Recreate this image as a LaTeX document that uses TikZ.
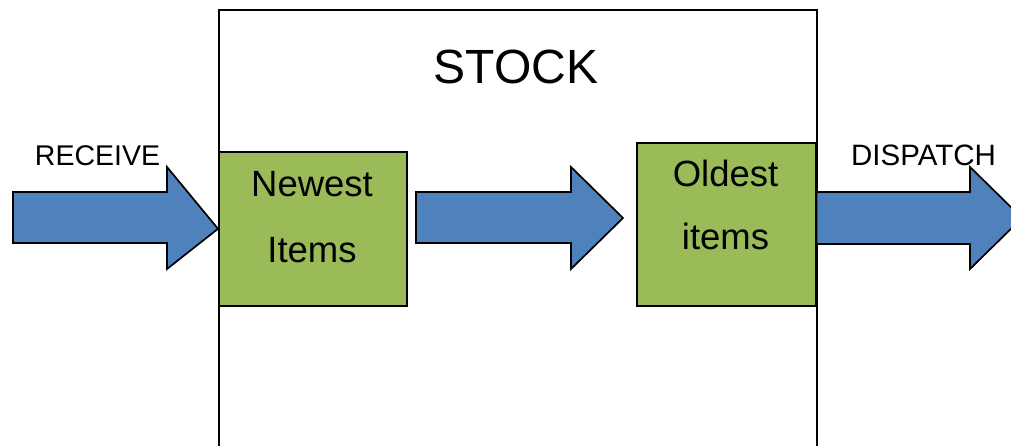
\documentclass[tikz,border=0pt]{standalone}
\usepackage{fontspec}
\setmainfont{Liberation Sans}
\definecolor{arrowblue}{HTML}{4F81BD}
\definecolor{boxgreen}{HTML}{9BBB59}
\tikzset{
  frame/.style={draw=black, line width=1.8pt, fill=white},
  greenbox/.style={draw=black, line width=1.6pt, fill=boxgreen},
  blockarrow/.style={draw=black, line width=1.7pt, fill=arrowblue, line join=miter},
  lbl/.style={anchor=base, inner sep=0pt, text=black},
}
\begin{document}
\begin{tikzpicture}[x=1pt,y=-1pt]
\useasboundingbox (0,0) rectangle (1011,446);
\clip (0,0) rectangle (1011,446);
% stock frame
\node[frame, minimum width=598pt, minimum height=480pt, anchor=north west, inner sep=0pt] (stock) at (218,9) {};
\node[lbl, font=\fontsize{48}{48}\selectfont] (stocklbl) at (516,84) {STOCK};
% green boxes
\node[greenbox, minimum width=188pt, minimum height=154pt, anchor=north west, inner sep=0pt] (newest) at (218,151) {};
\node[greenbox, minimum width=179pt, minimum height=163pt, anchor=north west, inner sep=0pt] (oldest) at (636,142) {};
\node[lbl, font=\fontsize{36.5}{36.5}\selectfont] (newestA) at (312,197) {Newest};
\node[lbl, font=\fontsize{36.5}{36.5}\selectfont] (newestB) at (312,262) {Items};
\node[lbl, font=\fontsize{36.5}{36.5}\selectfont] (oldestA) at (725.5,187) {Oldest};
\node[lbl, font=\fontsize{36.5}{36.5}\selectfont] (oldestB) at (725.5,250) {items};
% arrows
\draw[blockarrow] (13,192) -- (167,192) -- (167,167) -- (newest.west) -- (167,269) -- (167,243) -- (13,243) -- cycle;
\draw[blockarrow] (416,192) -- (571,192) -- (571,167) -- (623,218) -- (571,269) -- (571,243) -- (416,243) -- cycle;
\draw[blockarrow] (oldest.east |- 0,192) -- (970,192) -- (970,167) -- (1022,218) -- (970,269) -- (970,244) -- (oldest.east |- 0,244) -- cycle;
% labels
\node[lbl, font=\fontsize{28.5}{28.5}\selectfont] (receive) at (97.5,166) {RECEIVE};
\node[lbl, font=\fontsize{29.5}{29.5}\selectfont] (dispatch) at (923.5,166) {DISPATCH};
\end{tikzpicture}
\end{document}
